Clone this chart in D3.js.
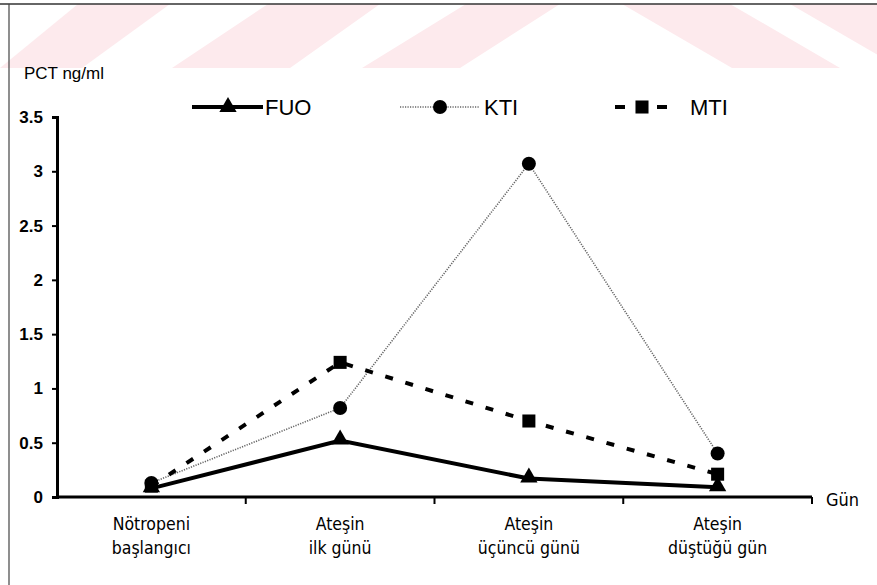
<!DOCTYPE html>
<html><head><meta charset="utf-8">
<script src="https://cdn.jsdelivr.net/npm/d3@7"></script>
<style>body{margin:0;background:#fff}svg{display:block}</style>
</head><body>
<script>
const categories = [["Nötropeni","başlangıcı"],["Ateşin","ilk günü"],["Ateşin","üçüncü günü"],["Ateşin","düştüğü gün"]];
const fuo = [0.08, 0.52, 0.17, 0.09];
const kti = [0.13, 0.82, 3.07, 0.40];
const mti = [0.10, 1.24, 0.70, 0.21];
const yTicks = [0, 0.5, 1, 1.5, 2, 2.5, 3, 3.5];
const seriesNames = ["FUO", "KTI", "MTI"];
const yTitle = "PCT ng/ml";
const xTitle = "Gün";

(function(){
const W = 877, H = 585;
const svg = d3.select("body").append("svg").attr("width", W).attr("height", H);

// watermark
const pink = "#fdeaed";
const wm = [[78,170,0,82],[268,380,172,290],[466,560,362,460],[622,730,732,840],[790,877,900,990]];
wm.forEach(([t0,t1,b0,b1]) => {
  svg.append("polygon").attr("points", `${t0},4 ${t1},4 ${b1},68 ${b0},68`).attr("fill", pink);
});
// frame
svg.append("line").attr("x1",0).attr("x2",W).attr("y1",4).attr("y2",4).attr("stroke","#333").attr("stroke-width",1.5);
svg.append("line").attr("x1",9).attr("x2",9).attr("y1",4).attr("y2",H).attr("stroke","#444").attr("stroke-width",1.2);

const mLeft = 57, mRight = 812, mTop = 117, mBottom = 497;
const x = d3.scaleBand().domain(d3.range(categories.length)).range([mLeft, mRight]);
const y = d3.scaleLinear().domain([0, 3.5]).range([mBottom, mTop]);
const cx = i => x(i) + x.bandwidth()/2;

// y axis
const ya = svg.append("g").attr("transform", `translate(${mLeft},0)`)
  .call(d3.axisLeft(y).tickValues(yTicks).tickSize(5).tickFormat(d => String(d)));
ya.select(".domain").attr("stroke","#000").attr("stroke-width",3);
ya.selectAll(".tick line").attr("stroke","#000").attr("stroke-width",2);
ya.selectAll(".tick text").attr("font-family","Liberation Sans, Arial, sans-serif").attr("font-weight","bold").attr("font-size",17).attr("fill","#000").attr("x",-14);

// x axis
const xa = svg.append("g").attr("transform", `translate(0,${mBottom})`);
xa.append("line").attr("x1",mLeft).attr("x2",mRight).attr("stroke","#000").attr("stroke-width",3);
d3.range(1, categories.length + 1).forEach(i => {
  const bx = x(i - 1) + x.bandwidth();
  xa.append("line").attr("x1",bx).attr("x2",bx).attr("y1",0).attr("y2",7).attr("stroke","#000").attr("stroke-width",2);
});
categories.forEach((c, i) => {
  const t = xa.append("text").attr("text-anchor","middle").attr("font-family","DejaVu Sans Condensed, DejaVu Sans, sans-serif").attr("font-size",17.5).attr("fill","#000");
  c.forEach((line, k) => t.append("tspan").attr("x", cx(i)).attr("y", 33 + k*24).text(line));
});
svg.append("text").attr("x",826).attr("y",506).attr("font-family","DejaVu Sans Condensed, DejaVu Sans, sans-serif").attr("font-size",18).attr("fill","#000").text(xTitle);
svg.append("text").attr("x",24).attr("y",79).attr("font-family","Liberation Sans, Arial, sans-serif").attr("font-size",17).attr("fill","#000").text(yTitle);

const line = d3.line().x((d,i) => cx(i)).y(d => y(d));
svg.append("path").datum(kti).attr("d", line).attr("fill","none").attr("stroke","#666").attr("stroke-width",1.6).attr("stroke-dasharray","1.2,1.3");
svg.append("path").datum(mti).attr("d", line).attr("fill","none").attr("stroke","#000").attr("stroke-width",4).attr("stroke-dasharray","8,13");
svg.append("path").datum(fuo).attr("d", line).attr("fill","none").attr("stroke","#000").attr("stroke-width",4);

const tri = d3.symbol().type(d3.symbolTriangle).size(130);
const sq = d3.symbol().type(d3.symbolSquare).size(170);
svg.selectAll(".m-kti").data(kti).join("circle").attr("cx",(d,i)=>cx(i)).attr("cy",d=>y(d)).attr("r",7).attr("fill","#000");
svg.selectAll(".m-mti").data(mti).join("path").attr("d",sq).attr("transform",(d,i)=>`translate(${cx(i)},${y(d)})`).attr("fill","#000");
svg.selectAll(".m-fuo").data(fuo).join("path").attr("d",tri).attr("transform",(d,i)=>`translate(${cx(i)},${y(d)-1})`).attr("fill","#000");

// legend
const ly = 107;
const lg = svg.append("g");
lg.append("line").attr("x1",192).attr("x2",263).attr("y1",ly).attr("y2",ly).attr("stroke","#000").attr("stroke-width",4);
lg.append("path").attr("d",tri).attr("transform",`translate(228,${ly})`).attr("fill","#000");
lg.append("text").attr("x",265).attr("y",ly+8).text(seriesNames[0]);
lg.append("line").attr("x1",400).attr("x2",480).attr("y1",ly).attr("y2",ly).attr("stroke","#666").attr("stroke-width",1.6).attr("stroke-dasharray","1.2,1.3");
lg.append("circle").attr("cx",440).attr("cy",ly).attr("r",7).attr("fill","#000");
lg.append("text").attr("x",484).attr("y",ly+8).text(seriesNames[1]);
lg.append("line").attr("x1",615).attr("x2",668).attr("y1",ly).attr("y2",ly).attr("stroke","#000").attr("stroke-width",4).attr("stroke-dasharray","10,11");
lg.append("path").attr("d",sq).attr("transform",`translate(642,${ly})`).attr("fill","#000");
lg.append("text").attr("x",690).attr("y",ly+8).text(seriesNames[2]);
lg.selectAll("text").attr("font-family","Liberation Sans, Arial, sans-serif").attr("font-size",22).attr("fill","#000");
})();
</script>
</body></html>
